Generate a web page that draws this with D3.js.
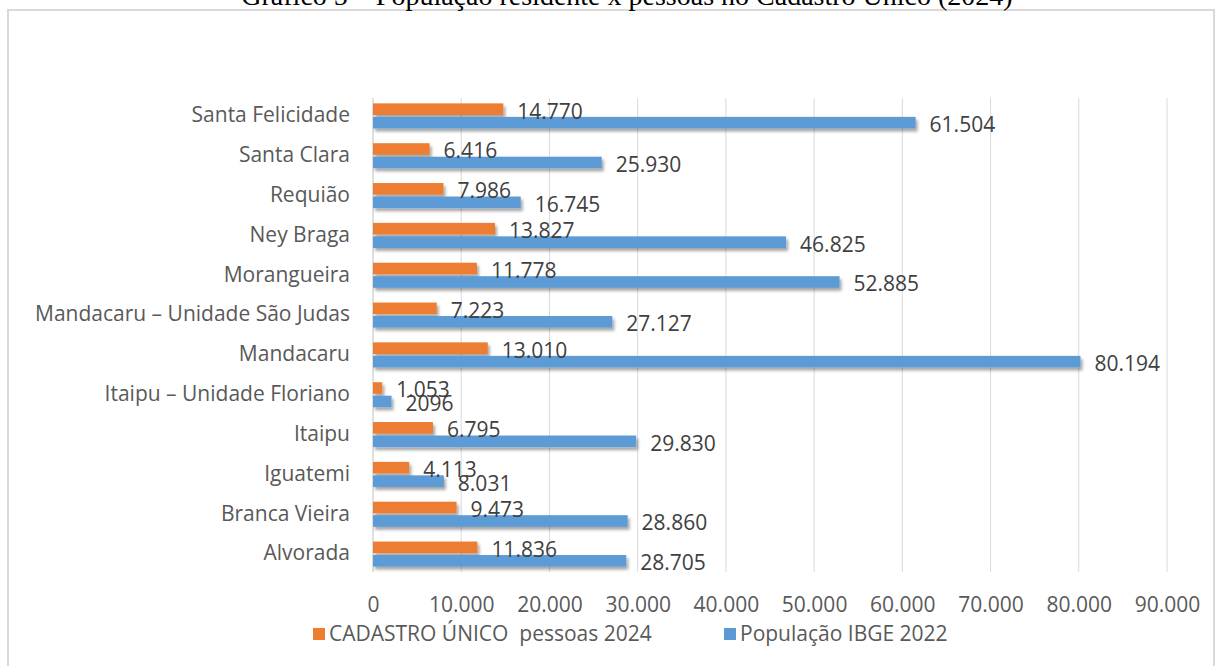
<!DOCTYPE html>
<html>
<head>
<meta charset="utf-8">
<script src="https://cdn.jsdelivr.net/npm/d3@7"></script>
<style>
  body { margin: 0; background: #fff; }
  svg { display: block; }
</style>
</head>
<body>
<div id="chart"></div>
<script>
// chart data (top to bottom as drawn)
var categories = ["Santa Felicidade", "Santa Clara", "Requião", "Ney Braga", "Morangueira",
    "Mandacaru – Unidade São Judas", "Mandacaru", "Itaipu – Unidade Floriano", "Itaipu",
    "Iguatemi", "Branca Vieira", "Alvorada"];
var cadastro = [14770, 6416, 7986, 13827, 11778, 7223, 13010, 1053, 6795, 4113, 9473, 11836];
var populacao = [61504, 25930, 16745, 46825, 52885, 27127, 80194, 2096, 29830, 8031, 28860, 28705];
var cadastroLabels = ["14.770", "6.416", "7.986", "13.827", "11.778", "7.223", "13.010", "1.053", "6.795", "4.113", "9.473", "11.836"];
var populacaoLabels = ["61.504", "25.930", "16.745", "46.825", "52.885", "27.127", "80.194", "2096", "29.830", "8.031", "28.860", "28.705"];
var xTicks = [0, 10000, 20000, 30000, 40000, 50000, 60000, 70000, 80000, 90000];
var seriesNames = ["CADASTRO ÚNICO  pessoas 2024", "População IBGE 2022"];
var colors = ["#ED7D31", "#5B9BD5"];
var title = "Gráfico 5 – População residente x pessoas no Cadastro Único (2024)";

var svgWidth = 1216;
var svgHeight = 666;
var margin = { top: 96, right: 49, bottom: 92, left: 373 };
var width = svgWidth - margin.left - margin.right;
var height = svgHeight - margin.top - margin.bottom;
var font = "'Open Sans', sans-serif";
var fontSize = "21px";

var svg = d3.select("#chart")
    .append("svg")
    .attr("width", svgWidth)
    .attr("height", svgHeight);

// soft shadow under the bars
var defs = svg.append("defs");
defs.append("filter")
    .attr("id", "shadow")
    .attr("x", "-5%").attr("y", "-50%")
    .attr("width", "110%").attr("height", "200%")
    .append("feDropShadow")
    .attr("dx", 2).attr("dy", 3)
    .attr("stdDeviation", 1.6)
    .attr("flood-color", "#000")
    .attr("flood-opacity", 0.35);

// outer frame
svg.append("rect")
    .attr("x", 8).attr("y", 10)
    .attr("width", 1206).attr("height", 670)
    .attr("fill", "none")
    .attr("stroke", "#d9d9d9")
    .attr("stroke-width", 2);

// title (cut at the top, as in the source)
svg.append("text")
    .attr("x", 627)
    .attr("y", 5)
    .attr("text-anchor", "middle")
    .attr("font-family", "'Liberation Serif', 'Times New Roman', serif")
    .attr("font-size", "28px")
    .attr("fill", "#000")
    .text(title);

var chartGroup = svg.append("g")
    .attr("transform", `translate(${margin.left}, ${margin.top})`);

var xScale = d3.scaleLinear()
    .domain([0, 90000])
    .range([0, width]);

var yScale = d3.scaleBand()
    .domain(categories)
    .range([0, height])
    .paddingInner(0.37)
    .paddingOuter(0.185);

var subScale = d3.scaleBand()
    .domain([0, 1])
    .range([0, yScale.bandwidth()])
    .paddingInner(0.14);

// gridlines
chartGroup.selectAll(".grid")
    .data(xTicks.slice(1))
    .enter()
    .append("line")
    .attr("x1", d => xScale(d))
    .attr("x2", d => xScale(d))
    .attr("y1", 2)
    .attr("y2", height - 2)
    .attr("stroke", "#d9d9d9")
    .attr("stroke-width", 1);

// bottom axis (labels only)
var bottomAxis = d3.axisBottom(xScale)
    .tickValues(xTicks)
    .tickSize(0)
    .tickPadding(0)
    .tickFormat(d => d === 0 ? "0" : d3.format(",")(d).replace(/,/g, "."));

var xAxisG = chartGroup.append("g")
    .attr("transform", `translate(0, ${height})`)
    .call(bottomAxis);
xAxisG.select(".domain").remove();
xAxisG.selectAll("text")
    .attr("dy", null)
    .attr("y", 38)
    .attr("font-family", font)
    .attr("font-size", fontSize)
    .attr("fill", "#595959");

// left axis
var leftAxis = d3.axisLeft(yScale).tickSize(0).tickPadding(23);
var yAxisG = chartGroup.append("g").call(leftAxis);
yAxisG.select(".domain")
    .attr("stroke", "#bfbfbf")
    .attr("d", `M0,2V${height - 2}`);
yAxisG.selectAll("text")
    .attr("dy", "0.3em")
    .attr("font-family", font)
    .attr("font-size", fontSize)
    .attr("fill", "#595959");

// bars
var series = [cadastro, populacao];
var seriesLabels = [cadastroLabels, populacaoLabels];

series.forEach(function (values, s) {
    var g = chartGroup.append("g").attr("filter", "url(#shadow)");
    g.selectAll("rect")
        .data(values)
        .enter()
        .append("rect")
        .attr("x", 0)
        .attr("y", (d, i) => yScale(categories[i]) + subScale(s))
        .attr("width", d => xScale(d))
        .attr("height", subScale.bandwidth())
        .attr("fill", colors[s]);
});

// value labels
series.forEach(function (values, s) {
    chartGroup.selectAll(".lbl" + s)
        .data(values)
        .enter()
        .append("text")
        .attr("x", d => xScale(d) + 14)
        .attr("y", (d, i) => yScale(categories[i]) + subScale(s) + subScale.bandwidth() / 2 + 2)
        .attr("dy", "0.35em")
        .attr("font-family", font)
        .attr("font-size", fontSize)
        .attr("fill", "#404040")
        .text((d, i) => seriesLabels[s][i]);
});

// legend
var legendPos = [313, 724];
seriesNames.forEach(function (name, s) {
    svg.append("rect")
        .attr("x", legendPos[s])
        .attr("y", 628)
        .attr("width", 12)
        .attr("height", 12)
        .attr("fill", colors[s]);
    svg.append("text")
        .attr("x", legendPos[s] + 16)
        .attr("y", 634)
        .attr("dy", "0.35em")
        .style("white-space", "pre")
        .attr("font-family", font)
        .attr("font-size", fontSize)
        .attr("fill", "#595959")
        .text(name);
});
</script>
</body>
</html>
